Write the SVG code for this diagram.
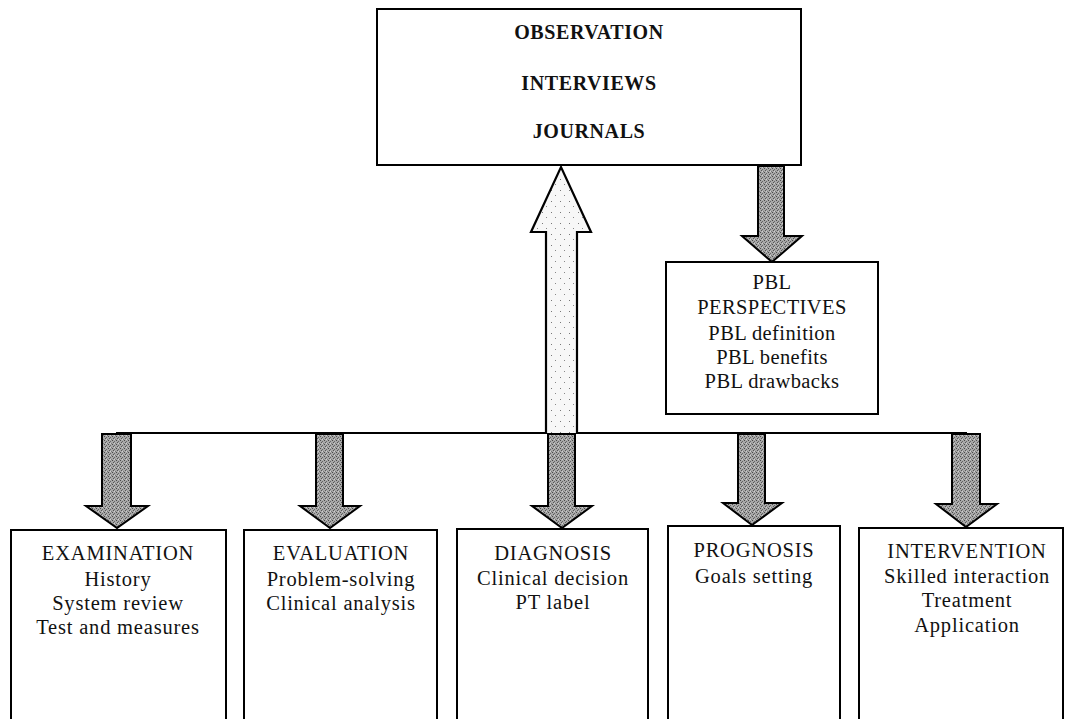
<svg xmlns="http://www.w3.org/2000/svg" width="1065" height="719" viewBox="0 0 1065 719">
<defs>
<pattern id="dark" width="4" height="4" patternUnits="userSpaceOnUse">
<rect width="4" height="4" fill="#a8a8a8"/>
<rect x="0" y="0" width="1" height="1" fill="#4a4a4a"/>
<rect x="2" y="1" width="1" height="1" fill="#666"/>
<rect x="1" y="2" width="1" height="1" fill="#555"/>
<rect x="3" y="3" width="1" height="1" fill="#777"/>
<rect x="2" y="3" width="1" height="1" fill="#d0d0d0"/>
</pattern>
<pattern id="light" width="9" height="11" patternUnits="userSpaceOnUse">
<rect width="9" height="11" fill="#f7f7f7"/>
<rect x="2" y="3" width="1" height="1" fill="#777"/>
<rect x="6" y="8" width="1" height="1" fill="#888"/>
</pattern>
</defs>
<style>
.box{fill:#fff;stroke:#000;stroke-width:2}
.dn{fill:url(#dark);stroke:#000;stroke-width:2;stroke-linejoin:miter}
.up{fill:url(#light);stroke:#000;stroke-width:2.2}
.t{font-family:"Liberation Serif","Times New Roman",serif;font-size:20.5px;letter-spacing:0.8px;text-anchor:middle;fill:#111}
.tp{font-family:"Liberation Serif","Times New Roman",serif;font-size:20.5px;letter-spacing:0.4px;text-anchor:middle;fill:#111}
.tb{font-family:"Liberation Serif","Times New Roman",serif;font-size:20px;font-weight:bold;letter-spacing:0.6px;text-anchor:middle;fill:#111}
.ln{stroke:#000;stroke-width:2;fill:none}
</style>
<rect width="1065" height="719" fill="#fff"/>

<g id="sources">
<rect class="box" x="377" y="9" width="424" height="156" stroke-width="2.5"/>
<text class="tb" x="589" y="39">OBSERVATION</text>
<text class="tb" x="589" y="90">INTERVIEWS</text>
<text class="tb" x="589" y="138">JOURNALS</text>
</g>

<g id="connectors">
<line class="ln" x1="116" y1="433" x2="967" y2="433"/>
<path class="up" d="M546,433 L546,232 L531,232 L561,167 L591,232 L577,232 L577,433"/>
<path class="dn" d="M758,166 L758,236 L742,236 L772,262 L802,236 L784,236 L784,166 Z"/>
<path class="dn" d="M102,434 L102,506 L86,506 L117,528 L148,506 L131,506 L131,434 Z"/>
<path class="dn" d="M316,434 L316,506 L300,506 L330,528 L360,506 L343,506 L343,434 Z"/>
<path class="dn" d="M548,434 L548,506 L532,506 L562,528 L592,506 L575,506 L575,434 Z"/>
<path class="dn" d="M738,434 L738,503 L723,503 L752,525 L782,503 L765,503 L765,434 Z"/>
<path class="dn" d="M952,434 L952,504 L936,504 L966,527 L997,504 L980,504 L980,434 Z"/>
</g>

<g id="pbl">
<rect class="box" x="666" y="262" width="212" height="152"/>
<text class="tp" x="772" y="289">PBL</text>
<text class="tp" x="772" y="314">PERSPECTIVES</text>
<text class="tp" x="772" y="340">PBL definition</text>
<text class="tp" x="772" y="364">PBL benefits</text>
<text class="tp" x="772" y="388">PBL drawbacks</text>
</g>

<g id="examination">
<path class="box" d="M11,725 L11,530 L226,530 L226,725"/>
<text class="t" x="118" y="560">EXAMINATION</text>
<text class="t" x="118" y="586">History</text>
<text class="t" x="118" y="610">System review</text>
<text class="t" x="118" y="634">Test and measures</text>
</g>

<g id="evaluation">
<path class="box" d="M244,725 L244,530 L437,530 L437,725"/>
<text class="t" x="341" y="560">EVALUATION</text>
<text class="t" x="341" y="586">Problem-solving</text>
<text class="t" x="341" y="610">Clinical analysis</text>
</g>

<g id="diagnosis">
<path class="box" d="M457,725 L457,529 L648,529 L648,725"/>
<text class="t" x="553" y="560">DIAGNOSIS</text>
<text class="t" x="553" y="585">Clinical decision</text>
<text class="t" x="553" y="609">PT label</text>
</g>

<g id="prognosis">
<path class="box" d="M668,725 L668,526 L840,526 L840,725"/>
<text class="t" x="754" y="557">PROGNOSIS</text>
<text class="t" x="754" y="583">Goals setting</text>
</g>

<g id="intervention">
<path class="box" d="M859,725 L859,528 L1063,528 L1063,725"/>
<text class="t" x="967" y="558">INTERVENTION</text>
<text class="t" x="967" y="583">Skilled interaction</text>
<text class="t" x="967" y="607">Treatment</text>
<text class="t" x="967" y="632">Application</text>
</g>
</svg>
